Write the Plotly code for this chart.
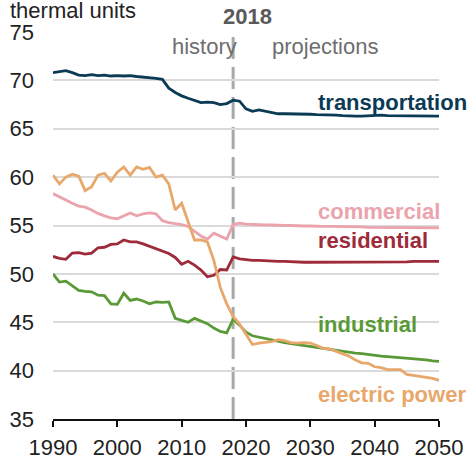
import plotly.graph_objects as go

years = list(range(1990, 2051))

transportation = [70.8, 70.9, 71.0, 70.8, 70.55, 70.5, 70.6, 70.5, 70.55, 70.45,
                  70.5, 70.45, 70.5, 70.4, 70.35, 70.25, 70.2, 70.1, 69.2, 68.75,
                  68.4, 68.15, 67.95, 67.7, 67.75, 67.7, 67.5, 67.6, 67.95,
                  67.85, 67.05, 66.8, 66.95, 66.8, 66.65, 66.55, 66.55, 66.55, 66.55,
                  66.5, 66.5, 66.45, 66.45, 66.4, 66.4, 66.35, 66.3, 66.3, 66.3,
                  66.35, 66.35, 66.4, 66.35, 66.35, 66.3, 66.35, 66.35, 66.3, 66.35,
                  66.3, 66.3]

commercial = [58.3, 57.95, 57.6, 57.3, 57.0, 56.9, 56.6, 56.25, 56.0, 55.8,
              55.7, 56.0, 56.3, 56.0, 56.2, 56.3, 56.2, 55.5, 55.3, 55.2,
              55.1, 54.9, 54.4, 53.9, 53.6, 54.2, 53.9, 53.6, 55.1,
              55.25, 55.15, 55.1, 55.1, 55.05, 55.05, 55.0, 55.0, 55.0, 54.95,
              54.95, 54.95, 54.9, 54.9, 54.9, 54.9, 54.85, 54.85, 54.85, 54.85,
              54.8, 54.8, 54.8, 54.8, 54.8, 54.75, 54.75, 54.75, 54.75, 54.75,
              54.75, 54.75]

residential = [51.8, 51.6, 51.5, 52.15, 52.2, 52.05, 52.15, 52.7, 52.75, 53.05,
               53.1, 53.5, 53.3, 53.3, 53.1, 52.85, 52.6, 52.35, 52.1, 51.7,
               51.0, 51.3, 50.9, 50.4, 49.7, 49.85, 50.45, 50.4, 51.75,
               51.55, 51.45, 51.4, 51.4, 51.35, 51.35, 51.3, 51.3, 51.25, 51.25,
               51.2, 51.2, 51.2, 51.2, 51.2, 51.2, 51.2, 51.2, 51.2, 51.2,
               51.2, 51.25, 51.25, 51.25, 51.25, 51.25, 51.25, 51.3, 51.3, 51.3,
               51.3, 51.3]

industrial = [50.0, 49.15, 49.25, 48.8, 48.3, 48.2, 48.15, 47.8, 47.75, 46.9,
              46.85, 48.0, 47.25, 47.4, 47.2, 46.9, 47.1, 47.05, 47.1, 45.4,
              45.2, 45.0, 45.4, 45.1, 44.85, 44.4, 44.05, 43.9, 45.3,
              44.7, 43.97, 43.6, 43.45, 43.3, 43.15, 43.0, 42.9, 42.8, 42.7,
              42.6, 42.45, 42.35, 42.25, 42.15, 42.05, 41.95, 41.9, 41.8, 41.75,
              41.65, 41.55, 41.5, 41.45, 41.4, 41.35, 41.3, 41.25, 41.15, 41.1,
              41.0, 40.95]

electric_power = [60.2, 59.3, 60.0, 60.3, 60.1, 58.6, 59.0, 60.2, 60.4, 59.6,
                  60.5, 61.05, 60.2, 61.05, 60.8, 61.0, 60.0, 60.2, 59.3, 56.6,
                  57.3, 55.4, 53.5, 53.5, 53.3, 51.4, 48.6, 46.9, 45.6,
                  44.8, 43.75, 42.7, 42.85, 42.9, 43.0, 43.2, 43.1, 42.9, 42.85,
                  42.9, 42.85, 42.6, 42.3, 42.25, 42.0, 41.7, 41.5, 41.1, 40.8,
                  40.75, 40.4, 40.3, 40.1, 40.1, 40.1, 39.6, 39.5, 39.4, 39.35,
                  39.2, 39.0]

series_names = ["transportation", "commercial", "residential", "industrial", "electric power"]
series_values = [transportation, commercial, residential, industrial, electric_power]
series_colors = ["#0b3a55", "#eba3ad", "#9e2a3a", "#5a9a36", "#e8a86c"]
label_y = [67.75, 56.4, 53.4, 44.8, 37.5]

x_ticks = [1990, 2000, 2010, 2020, 2030, 2040, 2050]
y_ticks = [35, 40, 45, 50, 55, 60, 65, 70, 75]

FONT = "Arial, Liberation Sans, sans-serif"

fig = go.Figure()
for name, vals, col in zip(series_names, series_values, series_colors):
    assert len(vals) == len(years), name
    fig.add_trace(go.Scatter(x=years, y=vals, mode="lines", name=name,
                             line=dict(color=col, width=2.8), showlegend=False,
                             hoverinfo="skip"))

annotations = []
for name, col, ly in zip(series_names, series_colors, label_y):
    annotations.append(dict(x=2030.9, y=ly, xref="x", yref="y", text="<b>%s</b>" % name,
                            showarrow=False, xanchor="left", yanchor="middle",
                            font=dict(family=FONT, size=22, color=col)))

annotations += [
    dict(x=2020.3, y=1.039, xref="x", yref="paper", text="<b>2018</b>", showarrow=False,
         xanchor="center", yanchor="middle", font=dict(family=FONT, size=22, color="#595959")),
    dict(x=2013.6, y=73.5, xref="x", yref="y", text="history", showarrow=False,
         xanchor="center", yanchor="middle", font=dict(family=FONT, size=22, color="#6e6e6e")),
    dict(x=2032.35, y=73.5, xref="x", yref="y", text="projections", showarrow=False,
         xanchor="center", yanchor="middle", font=dict(family=FONT, size=22, color="#6e6e6e")),
    dict(x=-0.1166, y=1.055, xref="paper", yref="paper", text="thermal units", showarrow=False,
         xanchor="left", yanchor="middle", font=dict(family=FONT, size=22, color="#222222")),
]

fig.add_shape(type="line", x0=2018, x1=2018, y0=35, y1=75, xref="x", yref="y",
              line=dict(color="#a8a8a8", width=3, dash="22px,8px"), layer="below")

fig.update_layout(
    width=471, height=457,
    margin=dict(l=53, r=32, t=32, b=38),
    paper_bgcolor="white", plot_bgcolor="white",
    font=dict(family=FONT, size=22, color="#222222"),
    annotations=annotations,
    xaxis=dict(range=[1990, 2050], tickvals=x_ticks, ticktext=[str(t) for t in x_ticks],
               showgrid=False, showline=True, linecolor="#111111", linewidth=1.5,
               ticks="outside", ticklen=6, tickwidth=1.5, tickcolor="#111111",
               ticklabelstandoff=2,
               tickfont=dict(family=FONT, size=22, color="#222222"), zeroline=False,
               automargin=False),
    yaxis=dict(range=[35, 75], tickvals=y_ticks, showgrid=True, gridcolor="#dadada",
               gridwidth=1.5, showline=False, ticks="", zeroline=False,
               ticklabelstandoff=18, automargin=False,
               tickfont=dict(family=FONT, size=22, color="#222222")),
)

# remove the browser's default 8px page margin so the figure sits at the window's corner
fig.write_html("out.html", config={"displayModeBar": False},
               post_script="document.body.style.margin='0';")
